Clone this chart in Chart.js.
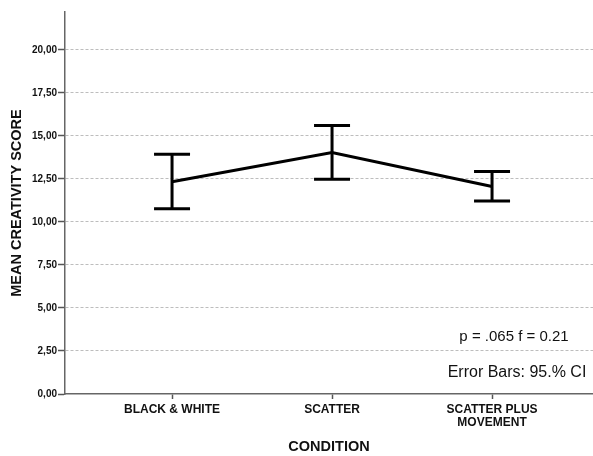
<!DOCTYPE html>
<html>
<head>
<meta charset="utf-8">
<script src="https://cdn.jsdelivr.net/npm/chart.js@4/dist/chart.umd.min.js"></script>
<style>
  html, body { margin: 0; padding: 0; background: #ffffff; }
  #wrap { width: 593px; height: 456px; position: relative; }
</style>
</head>
<body>
<div id="wrap"><canvas id="chart"></canvas></div>
<script>
// Conditions along the x axis
const categories = ['BLACK & WHITE', 'SCATTER', ['SCATTER PLUS', 'MOVEMENT']];
// Mean creativity score per condition
const means = [12.34, 14.03, 12.06];
// 95% confidence interval bounds per condition
const ciLower = [10.76, 12.48, 11.22];
const ciUpper = [13.93, 15.60, 12.93];
// Y axis tick values
const yTicks = [0, 2.5, 5, 7.5, 10, 12.5, 15, 17.5, 20];
// Text shown in the lower right of the plot
const notes = ['p = .065 f = 0.21', 'Error Bars: 95.% CI'];

const FONT = '"Liberation Sans", Arial, Helvetica, sans-serif';

const points = means.map((m, i) => ({ x: i, y: m }));

// Draws the vertical CI whiskers with caps
const errorBars = {
  id: 'errorBars',
  afterDatasetsDraw(chart) {
    const { ctx, scales: { x, y } } = chart;
    ctx.save();
    ctx.strokeStyle = '#000000';
    ctx.lineWidth = 3;
    ctx.lineCap = 'butt';
    const half = 18;
    categories.forEach((c, i) => {
      const px = x.getPixelForValue(i);
      const top = y.getPixelForValue(ciUpper[i]);
      const bot = y.getPixelForValue(ciLower[i]);
      ctx.beginPath();
      ctx.moveTo(px, top); ctx.lineTo(px, bot);
      ctx.moveTo(px - half, top); ctx.lineTo(px + half, top);
      ctx.moveTo(px - half, bot); ctx.lineTo(px + half, bot);
      ctx.stroke();
    });
    ctx.restore();
  }
};

// Statistics note in the lower right corner
const noteText = {
  id: 'noteText',
  afterDraw(chart) {
    const { ctx, chartArea } = chart;
    ctx.save();
    ctx.fillStyle = '#111111';
    ctx.textAlign = 'center';
    ctx.textBaseline = 'middle';
    ctx.font = '15px ' + FONT;
    ctx.fillText(notes[0], 514, chartArea.bottom - 57);
    ctx.font = '16px ' + FONT;
    ctx.fillText(notes[1], 517, chartArea.bottom - 21);
    ctx.restore();
  }
};

new Chart(document.getElementById('chart'), {
  type: 'line',
  data: {
    datasets: [{
      data: points,
      borderColor: '#000000',
      borderWidth: 3,
      pointRadius: 0,
      tension: 0,
      fill: false
    }]
  },
  options: {
    responsive: true,
    maintainAspectRatio: false,
    animation: false,
    events: [],
    layout: { padding: { top: 12, right: 0, bottom: 0, left: 0 } },
    plugins: { legend: { display: false }, tooltip: { enabled: false } },
    scales: {
      x: {
        type: 'linear',
        min: -0.669,
        max: 2.631,
        afterBuildTicks(scale) { scale.ticks = categories.map((c, i) => ({ value: i })); },
        afterFit(scale) { scale.height = 62; },
        ticks: {
          autoSkip: false,
          maxRotation: 0,
          padding: 4,
          color: '#111111',
          font: { family: FONT, size: 12, weight: 'bold', lineHeight: 1.1 },
          callback: (v) => categories[v]
        },
        grid: {
          drawOnChartArea: false,
          drawTicks: true,
          tickLength: 5,
          tickColor: '#555555',
          tickWidth: 1.5
        },
        border: { display: true, color: '#666666', width: 1.5 },
        title: {
          display: true,
          text: 'CONDITION',
          color: '#111111',
          padding: { top: 0, bottom: 0 },
          font: { family: FONT, size: 14.5, weight: 'bold' }
        }
      },
      y: {
        min: 0,
        max: 22.2,
        afterBuildTicks(scale) { scale.ticks = yTicks.map(v => ({ value: v })); },
        afterFit(scale) { scale.width = 65; },
        ticks: {
          padding: 1,
          color: '#111111',
          font: { family: FONT, size: 10, weight: 'bold' },
          callback: (v) => v.toFixed(2).replace('.', ',')
        },
        grid: {
          color: (ctx) => ctx.tick && ctx.tick.value === 0 ? 'rgba(0,0,0,0)' : '#bdbdbd',
          lineWidth: 1,
          drawTicks: true,
          tickLength: 7,
          tickColor: '#555555',
          tickWidth: 1.5
        },
        border: { display: true, color: '#666666', width: 1.5, dash: [3, 2] },
        title: {
          display: true,
          text: 'MEAN CREATIVITY SCORE',
          color: '#111111',
          padding: { top: 8, bottom: 0 },
          font: { family: FONT, size: 14.5, weight: 'bold' }
        }
      }
    }
  },
  plugins: [errorBars, noteText]
});
</script>
</body>
</html>
